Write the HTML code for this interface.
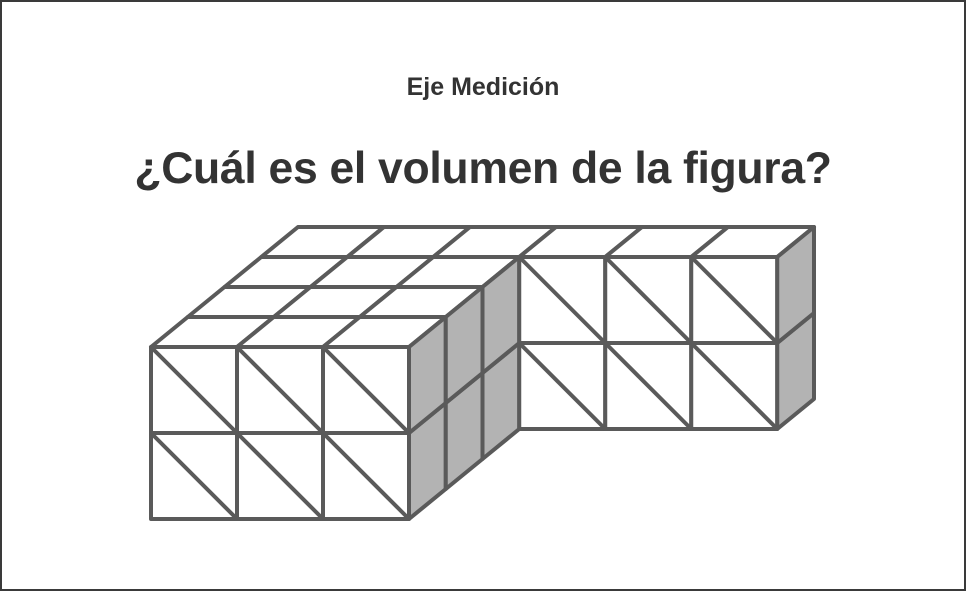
<!DOCTYPE html>
<html><head><meta charset="utf-8">
<style>
html,body{margin:0;padding:0;background:#fff;}
#frame{position:absolute;left:0;top:0;width:962px;height:587px;border:2px solid #3a3a3a;background:#fff;}
.t1{position:absolute;left:0;width:966px;text-align:center;font-family:"Liberation Sans",sans-serif;font-weight:bold;color:#333;}
</style></head>
<body>
<div id="frame"></div>
<div class="t1" style="top:73px;font-size:25px;">Eje Medición</div>
<div class="t1" style="top:144px;font-size:44.5px;letter-spacing:-0.3px;">¿Cuál es el volumen de la figura?</div>
<svg id="fig" width="966" height="591" style="position:absolute;left:0;top:0"></svg>
<script>
// Blocks: [colStart, colEnd, depthStart, depthEnd, heightStart, heightEnd]
const blockCols = [[0,3],[0,6]];
const blockDepths = [[0,3],[3,4]];
const blockHeights = [[0,2],[0,2]];
const NS="http://www.w3.org/2000/svg";
const svg=document.getElementById('fig');
const X0=151,Y0=519,S=86,DX=36.75,DY=30;
function P(c,d,h){return [X0+S*c+DX*d, Y0-S*h-DY*d];}
function poly(pts,fill,name){
  const p=document.createElementNS(NS,'polygon');
  p.setAttribute('points',pts.map(q=>q.join(',')).join(' '));
  p.setAttribute('fill',fill);p.setAttribute('stroke','#5a5a5a');
  p.setAttribute('stroke-width','4');p.setAttribute('stroke-linejoin','round');
  
  
  svg.appendChild(p);
}
function line(a,b,name){
  const l=document.createElementNS(NS,'line');
  l.setAttribute('x1',a[0]);l.setAttribute('y1',a[1]);l.setAttribute('x2',b[0]);l.setAttribute('y2',b[1]);
  l.setAttribute('stroke','#5a5a5a');l.setAttribute('stroke-width','4');
  
  
  svg.appendChild(l);
}
for(let b=0;b<blockCols.length;b++){
  const [c0,c1]=blockCols[b],[d0,d1]=blockDepths[b],[h0,h1]=blockHeights[b];
  for(let c=c0;c<c1;c++)for(let d=d0;d<d1;d++)
    poly([P(c,d,h1),P(c+1,d,h1),P(c+1,d+1,h1),P(c,d+1,h1)],'#fff','cube-top-face');
  for(let c=c0;c<c1;c++){
    if(b>0 && c<blockCols[0][1]) continue;
    for(let h=h0;h<h1;h++){
      poly([P(c,d0,h),P(c+1,d0,h),P(c+1,d0,h+1),P(c,d0,h+1)],'#fff','cube-front-face');
      line(P(c,d0,h+1),P(c+1,d0,h),'front-face-diagonal');
    }
  }
  for(let d=d0;d<d1;d++)for(let h=h0;h<h1;h++)
    poly([P(c1,d,h),P(c1,d+1,h),P(c1,d+1,h+1),P(c1,d,h+1)],'#b3b3b3','cube-side-face');
}
</script>
</body></html>
